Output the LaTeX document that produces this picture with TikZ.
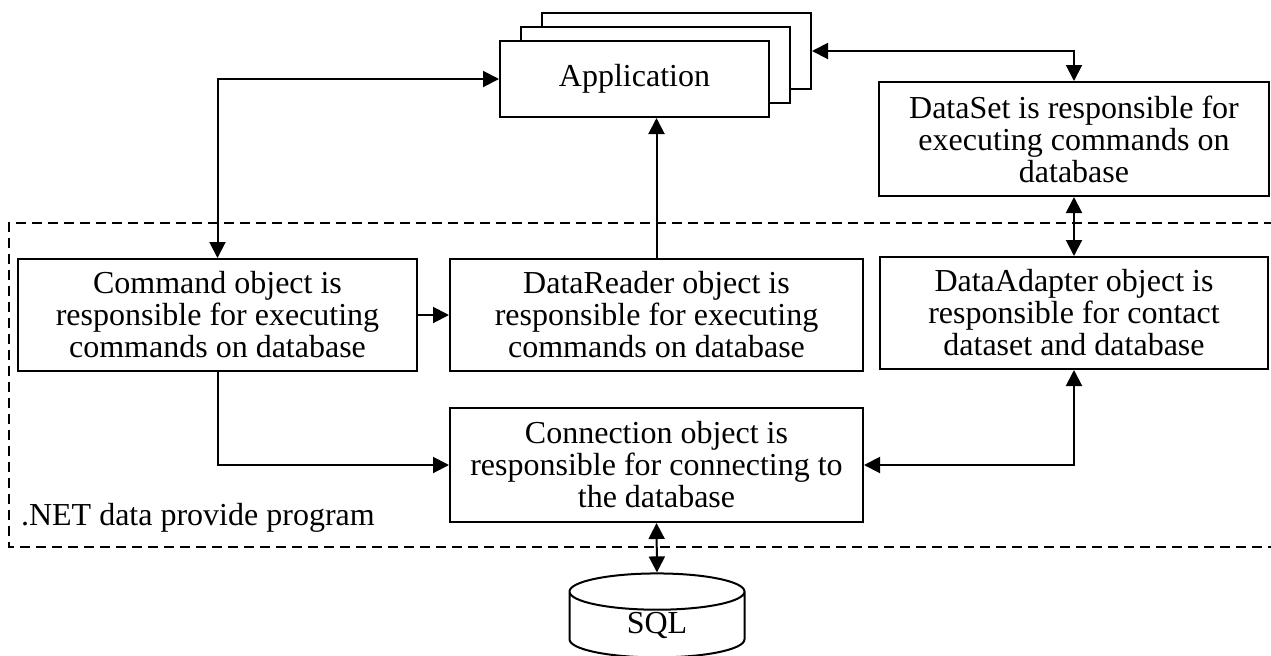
\documentclass[tikz,border=0pt]{standalone}
\usepackage{fontspec}
\setmainfont{Liberation Serif}
\usepackage{tikz}
\usetikzlibrary{shapes}
\usetikzlibrary{arrows.meta}
\usetikzlibrary{positioning}
\tikzstyle{bloc}=[rectangle,draw,line width=1pt,fill=white,inner sep=0pt,align=center,
        font=\fontsize{16pt}{16pt}\selectfont]
\tikzstyle{base}=[cylinder,shape border rotate=90,draw,line width=1pt,fill=white,
        aspect=0.6,minimum width=87.5pt,minimum height=42pt,inner sep=0pt,
        font=\fontsize{16pt}{16pt}\selectfont]
\tikzstyle{suite}=[line width=1pt,>={Triangle[length=8pt,width=8pt]}]
\tikzstyle{cadre}=[line width=0.8pt,dash pattern=on 5pt off 3pt]

\begin{document}
\begin{tikzpicture}[x=0.5pt,y=-0.5pt]
\useasboundingbox (0,0) rectangle (1271,655);
% frame of the data provider
\draw[cadre] (1290,223) -- (9,223) -- (9,547) -- (1290,547);
\node[anchor=west,font=\fontsize{16pt}{16pt}\selectfont] (prov) at (14,518) {.NET data provide program};
% stacked application windows
\node[bloc,minimum width=134.5pt,minimum height=38pt] (appC) at (676.5,51) {};
\node[bloc,minimum width=134.5pt,minimum height=38pt] (appB) at (655.5,65) {};
\node[bloc,minimum width=134.5pt,minimum height=38pt] (app) at (634.5,79) {Application};
\node[bloc,minimum width=195pt,minimum height=57pt] (dset) at (1074,139)
        {DataSet is responsible for\\executing commands on\\database};
\node[bloc,minimum width=199.5pt,minimum height=56pt] (cmd) at (217.5,315)
        {Command object is\\responsible for executing\\commands on database};
\node[bloc,minimum width=206.5pt,minimum height=56pt] (rdr) at (656.5,315)
        {DataReader object is\\responsible for executing\\commands on database};
\node[bloc,minimum width=194pt,minimum height=56pt] (ada) at (1074,313)
        {DataAdapter object is\\responsible for contact\\dataset and database};
\node[bloc,minimum width=206.5pt,minimum height=57pt] (cnx) at (656.5,465)
        {Connection object is\\responsible for connecting to\\the database};
\node[base] (sql) at (657,625) {SQL};
%Drawing Edges
\draw[suite,<->] (cmd.north) |- (app.west);
\draw[suite,->] (rdr.north) -- (rdr.north |- app.south);
\draw[suite,->] (cmd.east) -- (rdr.west);
\draw[suite,->] (cmd.south) |- (cnx.west);
\draw[suite,<->] (ada.south) |- (cnx.east);
\draw[suite,<->] (dset.south) -- (ada.north);
\draw[suite,<->] (appC.east) -| (dset.north);
\draw[suite,<->] (cnx.south) -- (sql.north);
\end{tikzpicture}
\end{document}
